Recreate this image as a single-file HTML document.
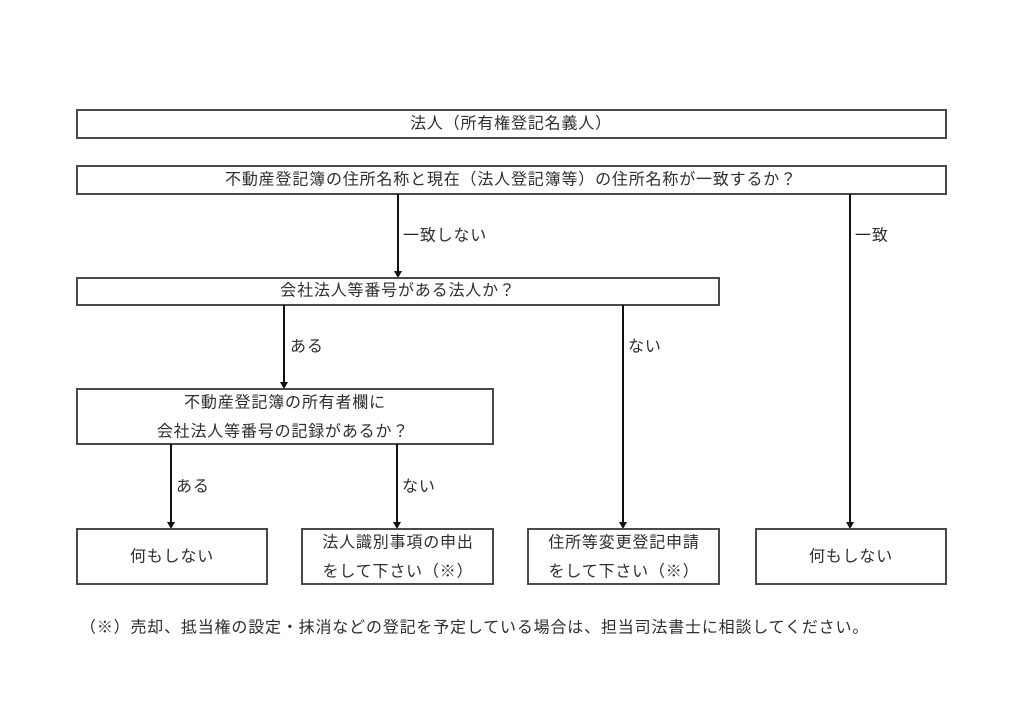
<!DOCTYPE html>
<html>
<head>
<meta charset="utf-8">
<style>
  html, body { margin: 0; padding: 0; background: #ffffff; }
  body { width: 1024px; height: 724px; overflow: hidden; }
  svg { display: block; }
  text {
    font-family: "Liberation Sans", "Noto Sans CJK JP", sans-serif;
    font-size: 16px;
    fill: #2e2e2e;
    letter-spacing: 0.82px;
    dominant-baseline: central;
  }
  .c { text-anchor: middle; }
  .box { fill: #ffffff; stroke: #4a4a4a; stroke-width: 2; }
  .ln { stroke: #111111; stroke-width: 2; fill: none; }
  .ah { fill: #111111; }
</style>
</head>
<body>
<svg width="1024" height="724" viewBox="0 0 1024 724" xmlns="http://www.w3.org/2000/svg">
  <!-- Box 1 -->
  <rect class="box" x="77" y="110" width="869" height="28"/>
  <text class="c" x="511" y="124">法人（所有権登記名義人）</text>

  <!-- Box 2 -->
  <rect class="box" x="77" y="166" width="869" height="28"/>
  <text class="c" x="511" y="180">不動産登記簿の住所名称と現在（法人登記簿等）の住所名称が一致するか？</text>

  <!-- Arrow 398 : box2 -> box3 -->
  <line class="ln" x1="398" y1="194" x2="398" y2="272"/>
  <polygon class="ah" points="394,271 402,271 398,278"/>
  <text x="403" y="236">一致しない</text>

  <!-- Arrow 850 : box2 -> box D -->
  <line class="ln" x1="850" y1="194" x2="850" y2="523"/>
  <polygon class="ah" points="846,522 854,522 850,529"/>
  <text x="855" y="236">一致</text>

  <!-- Box 3 -->
  <rect class="box" x="77" y="278" width="642" height="27"/>
  <text class="c" x="398" y="291">会社法人等番号がある法人か？</text>

  <!-- Arrow 284 : box3 -> box4 -->
  <line class="ln" x1="284" y1="305" x2="284" y2="383"/>
  <polygon class="ah" points="280,382 288,382 284,389"/>
  <text x="290" y="347">ある</text>

  <!-- Arrow 623 : box3 -> box C -->
  <line class="ln" x1="623" y1="305" x2="623" y2="523"/>
  <polygon class="ah" points="619,522 627,522 623,529"/>
  <text x="628" y="347">ない</text>

  <!-- Box 4 -->
  <rect class="box" x="77" y="389" width="416" height="55"/>
  <text class="c" x="285" y="403">不動産登記簿の所有者欄に</text>
  <text class="c" x="283" y="432">会社法人等番号の記録があるか？</text>

  <!-- Arrow 171 : box4 -> box A -->
  <line class="ln" x1="171" y1="444" x2="171" y2="523"/>
  <polygon class="ah" points="167,522 175,522 171,529"/>
  <text x="176" y="487">ある</text>

  <!-- Arrow 397 : box4 -> box B -->
  <line class="ln" x1="397" y1="444" x2="397" y2="523"/>
  <polygon class="ah" points="393,522 401,522 397,529"/>
  <text x="402" y="487">ない</text>

  <!-- Bottom boxes -->
  <rect class="box" x="77" y="529" width="190" height="55"/>
  <text class="c" x="172" y="557">何もしない</text>

  <rect class="box" x="302" y="529" width="191" height="55"/>
  <text class="c" x="398" y="543">法人識別事項の申出</text>
  <text class="c" x="398" y="572">をして下さい（※）</text>

  <rect class="box" x="528" y="529" width="191" height="55"/>
  <text class="c" x="624" y="543">住所等変更登記申請</text>
  <text class="c" x="624" y="572">をして下さい（※）</text>

  <rect class="box" x="756" y="529" width="190" height="55"/>
  <text class="c" x="851" y="557">何もしない</text>

  <!-- Footnote -->
  <text x="80" y="628">（※）売却、抵当権の設定・抹消などの登記を予定している場合は、担当司法書士に相談してください。</text>
</svg>
</body>
</html>
